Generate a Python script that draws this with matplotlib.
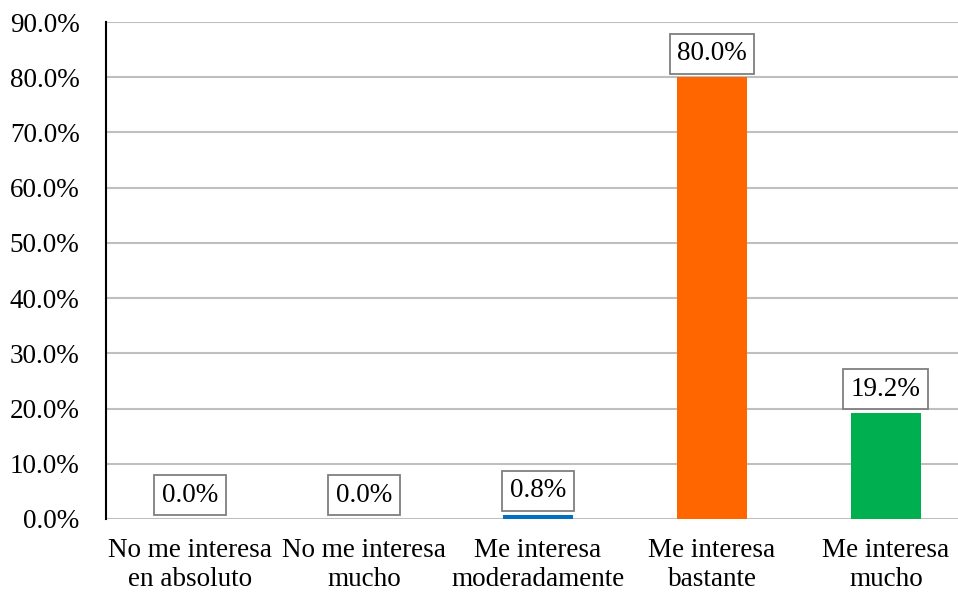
import matplotlib.pyplot as plt
from matplotlib.ticker import FuncFormatter

plt.rcParams['font.family'] = ['Liberation Serif', 'DejaVu Serif']

categories = ["No me interesa\nen absoluto", "No me interesa\nmucho",
              "Me interesa\nmoderadamente", "Me interesa\nbastante",
              "Me interesa\nmucho"]
values = [0.0, 0.0, 0.8, 80.0, 19.2]
colors = ["#0070C0", "#0070C0", "#0070C0", "#FF6600", "#00B050"]

fig = plt.figure(figsize=(9.58, 5.92), dpi=100)
ax = fig.add_axes([106 / 958, 73 / 592, 852 / 958, 497 / 592])

x = range(len(categories))
ax.bar(x, values, width=0.40, color=colors, zorder=3)

for xi, v in zip(x, values):
    ax.annotate(f"{v:.1f}%", (xi, v), xytext=(0, 8), textcoords="offset points",
                ha="center", va="bottom", fontsize=19.5, zorder=4,
                bbox=dict(boxstyle="square,pad=0.28", fc="white", ec="#7f7f7f", lw=1.3))

ax.set_xlim(-0.483, 4.414)
ax.set_ylim(0, 90)
ax.set_yticks(range(0, 91, 10))
ax.yaxis.set_major_formatter(FuncFormatter(lambda v, p: f"{v:.1f}%"))
ax.set_xticks(list(x))
ax.set_xticklabels(categories, linespacing=1.2)
ax.tick_params(axis="both", length=0, labelsize=19.5)
ax.tick_params(axis="y", pad=19)
ax.tick_params(axis="x", pad=14)

ax.grid(axis="y", color="#BFBFBF", lw=1.5, zorder=0)
for s in ["top", "right", "bottom"]:
    ax.spines[s].set_visible(False)
ax.spines["left"].set_color("black")
ax.spines["left"].set_linewidth(1.5)
ax.spines["left"].set_zorder(5)

fig.savefig("out.png", dpi=100)
